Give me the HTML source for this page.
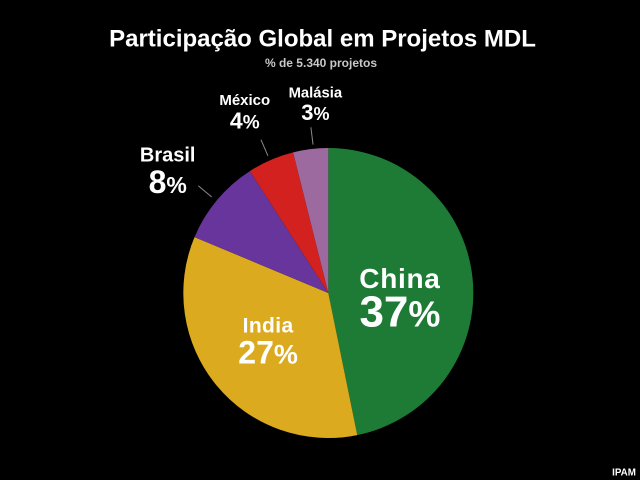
<!DOCTYPE html>
<html lang="pt">
<head>
<meta charset="utf-8">
<title>Participação Global em Projetos MDL</title>
<style>
html,body{margin:0;padding:0;background:#000;width:640px;height:480px;overflow:hidden}
svg{display:block}
text{font-family:"Liberation Sans",Arial,sans-serif;font-weight:bold;fill:#fff;text-anchor:middle}
</style>
</head>
<body>
<svg id="chart" width="640" height="480" viewBox="0 0 640 480" xmlns="http://www.w3.org/2000/svg">
<rect width="640" height="480" fill="#000"/>
<text x="322.5" y="46.7" font-size="24">Participação Global em Projetos MDL</text>
<text x="321" y="66.8" font-size="12" style="fill:#c8c8c8">% de 5.340 projetos</text>
<g id="slices"></g>
<g id="leaders"></g>
<g id="labels"></g>
<text x="624" y="475.5" font-size="9.8">IPAM</text>
</svg>
<script>
const categories = ["China", "India", "Brasil", "México", "Malásia"];
const sliceValues = [46.8, 34.5, 9.6, 5.2, 3.9];
const printedPercents = ["37", "27", "8", "4", "3"];
const sliceColors = ["#1e7b36", "#dcaa1e", "#67359b", "#d2211f", "#9c6a9e"];

const cx = 328.3, cy = 293, radius = 145;
const NS = "http://www.w3.org/2000/svg";
const total = sliceValues.reduce(function (a, b) { return a + b; }, 0);

function angleOf(value) { return value / total * Math.PI * 2; }
function polar(angle, r) {
  return [cx + r * Math.sin(angle), cy - r * Math.cos(angle)];
}
function slug(s) {
  return s.normalize("NFD").replace(/[\u0300-\u036f]/g, "").toLowerCase();
}

/* Label typography and nudges from the anchor point, per slice */
const labelStyle = [
  { inside: true,  r: 72,  dx: 0,    dy: 0, name: 28,   num: 44, pct: 36, nameDy: 2,    numDy: 40.5, ls: 0.7, leadDx: 0 },
  { inside: true,  r: 76,  dx: -1.5, dy: 0, name: 21,   num: 32, pct: 27, nameDy: -9,   numDy: 22,   ls: 0.4, leadDx: 0 },
  { inside: false, r: 203, dx: -5,   dy: 0, name: 20,   num: 32, pct: 23, nameDy: -1,   numDy: 30.5, ls: 0,   leadDx: -2 },
  { inside: false, r: 199, dx: -4.5, dy: 0, name: 15,   num: 23, pct: 19, nameDy: -5.5, numDy: 18,   ls: 0,   leadDx: -1 },
  { inside: false, r: 188, dx: 10,   dy: 0, name: 14.8, num: 22, pct: 18, nameDy: -9,   numDy: 13.5, ls: 0,   leadDx: 3 }
];

const slicesG = document.getElementById("slices");
const leadersG = document.getElementById("leaders");
const labelsG = document.getElementById("labels");

let cursor = 0;
sliceValues.forEach(function (value, i) {
  const a0 = cursor, a1 = cursor + angleOf(value);
  cursor = a1;
  const mid = (a0 + a1) / 2;
  const p0 = polar(a0, radius), p1 = polar(a1, radius);
  const large = a1 - a0 > Math.PI ? 1 : 0;

  const path = document.createElementNS(NS, "path");
  path.setAttribute("d", "M" + cx + " " + cy + "L" + p0[0] + " " + p0[1] +
    "A" + radius + " " + radius + " 0 " + large + " 1 " + p1[0] + " " + p1[1] + "Z");
  path.setAttribute("fill", sliceColors[i]);
  
  
  slicesG.appendChild(path);

  const st = labelStyle[i];

  if (!st.inside) {
    const q0 = polar(mid, 149.5), q1 = polar(mid, 167);
    const line = document.createElementNS(NS, "line");
    line.setAttribute("x1", q0[0] + st.leadDx);
    line.setAttribute("y1", q0[1]);
    line.setAttribute("x2", q1[0] + st.leadDx);
    line.setAttribute("y2", q1[1]);
    line.setAttribute("stroke", "#8a8a8a");
    line.setAttribute("stroke-width", "1");
    
    
    leadersG.appendChild(line);
  }

  const anchor = polar(mid, st.r);
  const lx = anchor[0] + st.dx, ly = anchor[1] + st.dy;

  const nameText = document.createElementNS(NS, "text");
  nameText.setAttribute("x", lx);
  nameText.setAttribute("y", ly + st.nameDy);
  nameText.setAttribute("font-size", st.name);
  nameText.setAttribute("letter-spacing", st.ls);
  
  
  nameText.textContent = categories[i];
  labelsG.appendChild(nameText);

  const numText = document.createElementNS(NS, "text");
  numText.setAttribute("x", lx);
  numText.setAttribute("y", ly + st.numDy);
  numText.setAttribute("font-size", st.num);
  
  
  numText.appendChild(document.createTextNode(printedPercents[i]));
  const pct = document.createElementNS(NS, "tspan");
  pct.setAttribute("font-size", st.pct);
  pct.textContent = "%";
  numText.appendChild(pct);
  labelsG.appendChild(numText);
});
</script>
</body>
</html>
